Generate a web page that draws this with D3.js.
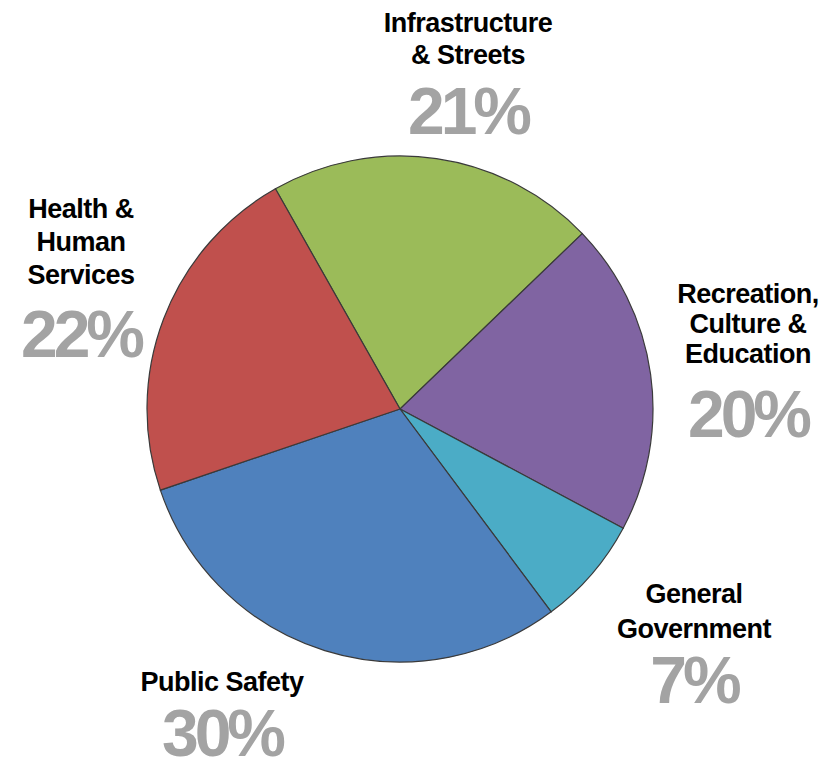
<!DOCTYPE html>
<html>
<head>
<meta charset="utf-8">
<script src="https://cdn.jsdelivr.net/npm/d3@7"></script>
<style>
  body { margin: 0; background: #fff; }
  .name { font-family: "Liberation Sans", Arial, sans-serif; font-weight: bold; font-size: 27px; fill: #000; letter-spacing: -0.5px; }
  .pct { font-family: "Liberation Sans", Arial, sans-serif; font-weight: bold; font-size: 66px; fill: #a3a3a3; letter-spacing: -4px; }
</style>
</head>
<body>
<svg id="chart" width="840" height="762"></svg>
<script>
// slice order goes clockwise, starting at the top-left edge of Infrastructure
const categories = ['Infrastructure & Streets', 'Recreation, Culture & Education', 'General Government', 'Public Safety', 'Health & Human Services'];
const shares = [21, 20, 7, 30, 22];
const colors = ['#9bbb59', '#8064a2', '#4bacc6', '#4f81bd', '#c0504d'];
const labelLines = [
    ['Infrastructure', '& Streets'],
    ['Recreation,', 'Culture &', 'Education'],
    ['General', 'Government'],
    ['Public Safety'],
    ['Health &', 'Human', 'Services']
];

const svg = d3.select('#chart');
const cx = 400, cy = 409, radius = 253;

const pie = d3.pie()
    .sort(null)
    .value(d => d)
    .startAngle(-29.5 * Math.PI / 180)
    .endAngle(330.5 * Math.PI / 180);

const arc = d3.arc().innerRadius(0).outerRadius(radius);

svg.append('g')
    .attr('transform', `translate(${cx},${cy})`)
    .selectAll('path')
    .data(pie(shares))
    .enter().append('path')
    .attr('d', arc)
    .attr('fill', (d, i) => colors[i])
    .attr('stroke', '#3a3a3a')
    .attr('stroke-width', 1.2);

// label layout: centre x, first baseline y, line gap, baseline of the percentage
const labelPos = [
    {x: 468, y: 32, gap: 32, py: 134},
    {x: 748, y: 303, gap: 30, py: 437},
    {x: 694, y: 603, gap: 35, py: 703},
    {x: 222, y: 691, gap: 0, py: 756},
    {x: 81, y: 218, gap: 33, py: 357}
];

const labels = svg.append('g')
    .selectAll('g')
    .data(categories)
    .enter().append('g')
    .attr('transform', (d, i) => `translate(${labelPos[i].x},0)`);

labels.each(function (d, i) {
    const g = d3.select(this);
    const p = labelPos[i];
    labelLines[i].forEach((line, j) => {
        g.append('text')
            .attr('class', 'name')
            .attr('text-anchor', 'middle')
            .attr('y', p.y + j * p.gap)
            .text(line);
    });
    g.append('text')
        .attr('class', 'pct')
        .attr('text-anchor', 'middle')
        .attr('y', p.py)
        .text(shares[i] + '%');
});
</script>
</body>
</html>
